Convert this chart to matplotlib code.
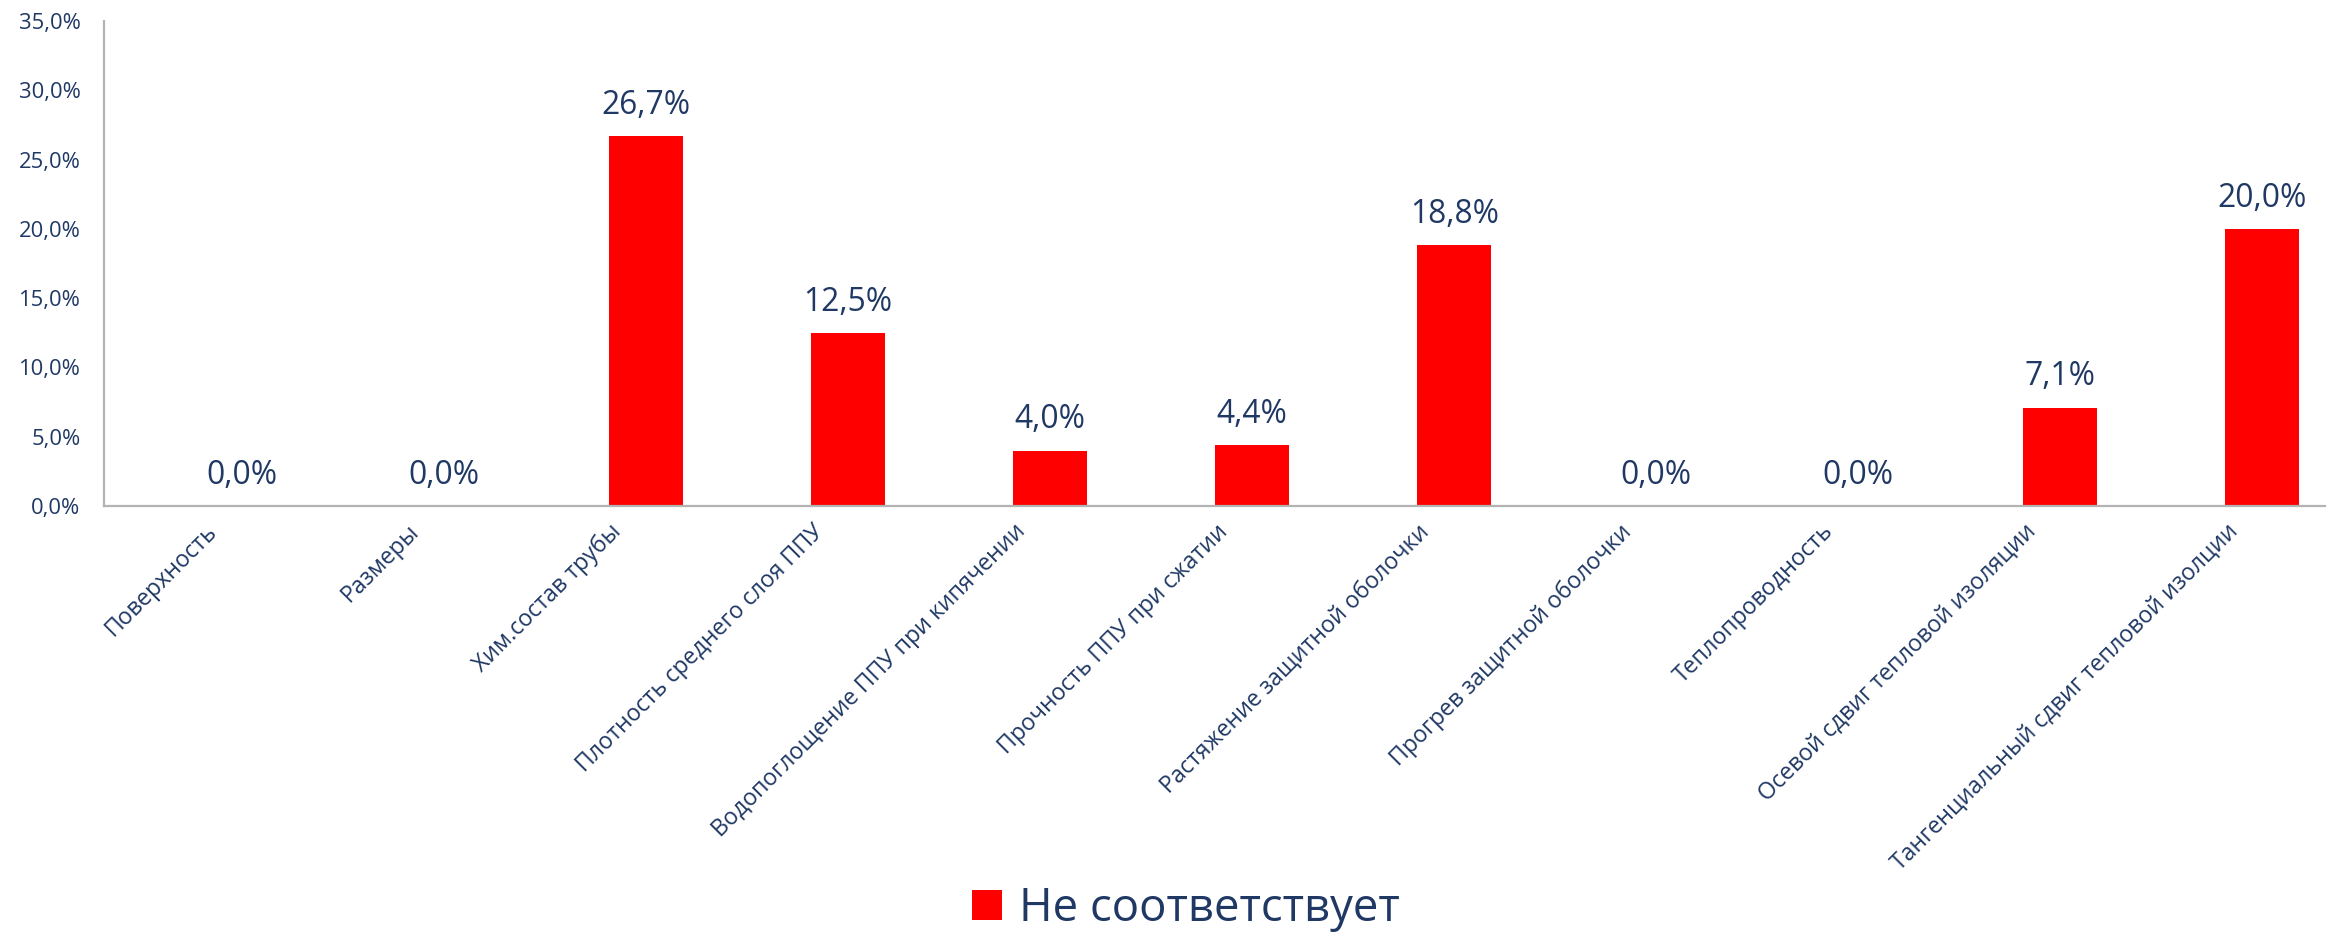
import matplotlib
matplotlib.use("Agg")
import matplotlib.pyplot as plt
import matplotlib.transforms as mtransforms
from matplotlib.ticker import FuncFormatter, MultipleLocator
from matplotlib.patches import Patch

categories = [
    "Поверхность",
    "Размеры",
    "Хим.состав трубы",
    "Плотность среднего слоя ППУ",
    "Водопоглощение ППУ при кипячении",
    "Прочность ППУ при сжатии",
    "Растяжение защитной оболочки",
    "Прогрев защитной оболочки",
    "Теплопроводность",
    "Осевой сдвиг тепловой изоляции",
    "Тангенциальный сдвиг тепловой изолции",
]
values = [0.0, 0.0, 26.7, 12.5, 4.0, 4.4, 18.8, 0.0, 0.0, 7.1, 20.0]
series_name = "Не соответствует"

TEXT = "#1F3864"
BAR = "#FF0000"
AXIS = "#B3B3B3"

plt.rcParams["font.family"] = ["Open Sans", "DejaVu Sans"]

W, H, DPI = 2331, 933, 100
fig = plt.figure(figsize=(W / DPI, H / DPI), dpi=DPI)
ax = fig.add_axes([104 / W, 1 - 506 / H, (2325 - 104) / W, (506 - 21) / H])

x = list(range(len(categories)))
bars = ax.bar(x, values, width=0.366, color=BAR, label=series_name, zorder=2)

ax.set_xlim(-0.683, 10.31)
ax.set_ylim(0, 35)
ax.yaxis.set_major_locator(MultipleLocator(5))
ax.yaxis.set_major_formatter(FuncFormatter(lambda v, p: f"{v:.1f}%".replace(".", ",")))

for s in ["top", "right"]:
    ax.spines[s].set_visible(False)
for s in ["left", "bottom"]:
    ax.spines[s].set_color(AXIS)
    ax.spines[s].set_linewidth(1.6)

ax.tick_params(axis="y", length=0, pad=17, labelsize=15.8, labelcolor=TEXT)
ax.tick_params(axis="x", length=0, pad=16, labelsize=16.7, labelcolor=TEXT)

ax.set_xticks(x)
ax.set_xticklabels(categories, rotation=45, ha="right", va="center", rotation_mode="anchor")
offset = mtransforms.ScaledTranslation(-28 / DPI, 0, fig.dpi_scale_trans)
for lab in ax.get_xticklabels():
    lab.set_transform(lab.get_transform() + offset)

for xi, v in zip(x, values):
    ax.annotate(f"{v:.1f}%".replace(".", ","), xy=(xi, v), xytext=(0, 16),
                textcoords="offset points", ha="center", va="baseline",
                fontsize=22.9, color=TEXT)

handle = Patch(facecolor=BAR, edgecolor="none")
leg = fig.legend([handle], [series_name], loc="center",
                 bbox_to_anchor=(1186 / W, 1 - 909 / H), frameon=False,
                 fontsize=32.8, handlelength=0.66, handleheight=0.66,
                 handletextpad=0.38, borderpad=0)
for t in leg.get_texts():
    t.set_color(TEXT)

fig.savefig("out.png", dpi=DPI)
